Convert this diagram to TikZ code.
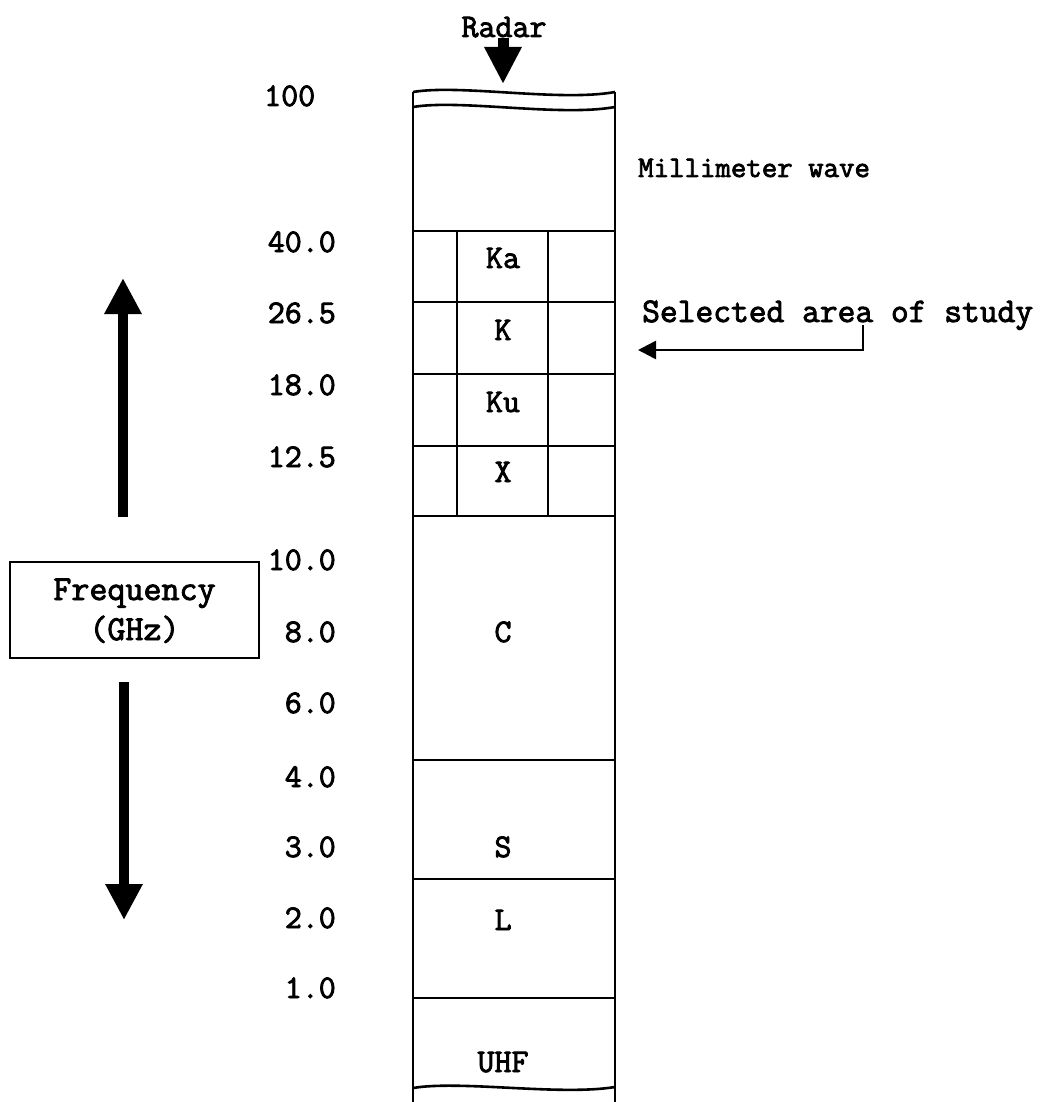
\documentclass[tikz,border=0pt]{standalone}
\usepackage{fontspec}
\newfontfamily\cour[FakeBold=2.6]{Latin Modern Mono}
\usetikzlibrary{arrows.meta}
\newcommand{\fsz}[1]{\fontsize{#1}{#1}\selectfont}
\begin{document}
\begin{tikzpicture}[x=1pt,y=-1pt,
  colline/.style={line width=2.6pt},
  txt/.style={inner sep=0pt,font=\cour\fsz{33}},
  numlbl/.style={txt,anchor=base east},
  bandlbl/.style={txt,anchor=base},
  bigarrow/.style={line width=10pt,-{Triangle[width=35pt,length=36pt]}},
  thinarrow/.style={line width=2.6pt,-{Triangle[width=18pt,length=18pt]}}]
\useasboundingbox (0,0) rectangle (1043,1102);
% column sides
\draw[colline] (413,92) -- (413,1102);
\draw[colline] (615,92) -- (615,1102);
% wavy ends
\draw[colline] (413,92) .. controls (460,84) and (560,102) .. (615,92);
\draw[colline] (413,107) .. controls (460,99) and (560,117) .. (615,107);
\draw[colline] (413,1088) .. controls (460,1080) and (560,1096) .. (615,1087);
% horizontal band lines
\foreach \yy in {231,302,374,446,516,760,879,998}
  \draw[colline] (413,\yy) -- (615,\yy);
% inner verticals
\draw[colline] (457,231) -- (457,516);
\draw[colline] (548,231) -- (548,516);
% band labels
\node[bandlbl] (ka) at (503,268) {Ka};
\node[bandlbl] (k) at (503,340) {K};
\node[bandlbl] (ku) at (503,412) {Ku};
\node[bandlbl] (x) at (503,482) {X};
\node[bandlbl] (c) at (503,642) {C};
\node[bandlbl] (s) at (503,857) {S};
\node[bandlbl] (l) at (503,930) {L};
\node[bandlbl] (uhf) at (503,1072) {UHF};
% frequency numbers
\node[txt,anchor=base west] (n100) at (264,106) {100};
\node[numlbl] (n40) at (336,252) {40.0};
\node[numlbl] (n265) at (336,323) {26.5};
\node[numlbl] (n18) at (336,395) {18.0};
\node[numlbl] (n125) at (336,467) {12.5};
\node[numlbl] (n10) at (336,570) {10.0};
\node[numlbl] (n8) at (336,642) {8.0};
\node[numlbl] (n6) at (336,713) {6.0};
\node[numlbl] (n4) at (336,787) {4.0};
\node[numlbl] (n3) at (336,857) {3.0};
\node[numlbl] (n2) at (336,928) {2.0};
\node[numlbl] (n1) at (336,998) {1.0};
% right labels
\node[txt,font=\cour\fsz{30},anchor=base west] (mmw) at (638,177) {Millimeter wave};
\node[txt,font=\cour\fsz{34.5},anchor=base west] (sel) at (642,322) {Selected area of study};
% radar
\node[txt,anchor=base] (radar) at (504,37) {Radar};
\coordinate (radtip) at (503,84);
\draw[line width=11pt,-{Triangle[width=35pt,length=37pt]}] (503,38) -- (radtip);
% selected area arrow
\coordinate (selstart) at (863,325);
\coordinate (selbend) at (863,350);
\coordinate (seltip) at (638,350);
\draw[thinarrow] (selstart) -- (selbend) -- (seltip);
% frequency box
\node[draw,line width=2.2pt,minimum width=249pt,minimum height=96pt,inner sep=0pt] (freq) at (134.5,610) {};
\node[txt,font=\cour\fsz{35},anchor=base] (freqt) at (134.5,600) {Frequency};
\node[txt,font=\cour\fsz{35},anchor=base] (ghz) at (134.5,640) {(GHz)};
% up and down arrows
\coordinate (upbot) at (123,517);
\coordinate (uptip) at (123,278);
\coordinate (dntop) at (124,682);
\coordinate (dntip) at (124,920);
\draw[bigarrow] (upbot) -- (uptip);
\draw[bigarrow] (dntop) -- (dntip);
\end{tikzpicture}
\end{document}
